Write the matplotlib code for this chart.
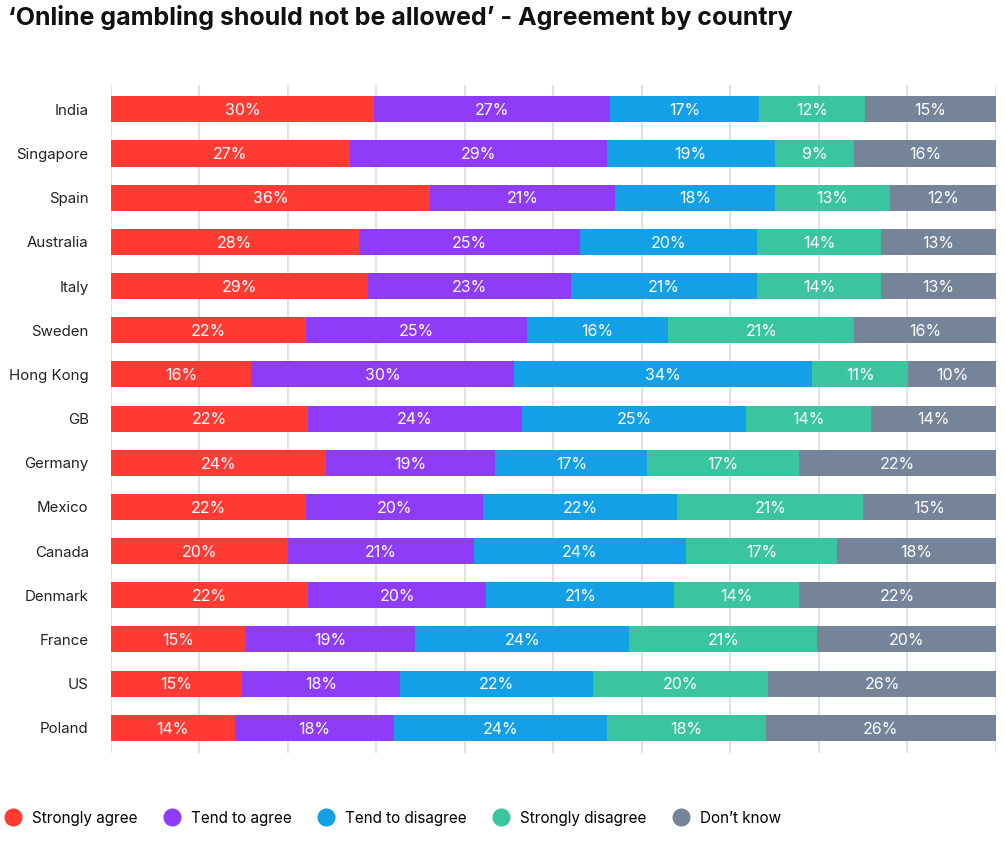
import matplotlib.pyplot as plt
from matplotlib.lines import Line2D
import numpy as np

plt.rcParams['font.family'] = ['Inter', 'DejaVu Sans']

pays = ['India', 'Singapore', 'Spain', 'Australia', 'Italy', 'Sweden', 'Hong Kong', 'GB',
        'Germany', 'Mexico', 'Canada', 'Denmark', 'France', 'US', 'Poland']
categories = ['Strongly agree', 'Tend to agree', 'Tend to disagree', 'Strongly disagree', "Don\u2019t know"]

strongly_agree = [30, 27, 36, 28, 29, 22, 16, 22, 24, 22, 20, 22, 15, 15, 14]
tend_agree = [27, 29, 21, 25, 23, 25, 30, 24, 19, 20, 21, 20, 19, 18, 18]
tend_disagree = [17, 19, 18, 20, 21, 16, 34, 25, 17, 22, 24, 21, 24, 22, 24]
strongly_disagree = [12, 9, 13, 14, 14, 21, 11, 14, 17, 21, 17, 14, 21, 20, 18]
dont_know = [15, 16, 12, 13, 13, 16, 10, 14, 22, 15, 18, 22, 20, 26, 26]

couleurs = ['#FF3B33', '#8E3CF7', '#13A0E6', '#3AC49F', '#76849A']

series = np.array([strongly_agree, tend_agree, tend_disagree, strongly_disagree, dont_know], dtype=float)
# les barres vont toutes jusqu'a 100
parts = series / series.sum(axis=0) * 100

fig = plt.figure(figsize=(10.06, 8.46), dpi=100)
ax = fig.add_axes([0.1103, 0.110, 0.8797, 0.7895])

y = np.arange(len(pays))
gauche = np.zeros(len(pays))
for i in range(len(categories)):
    ax.barh(y, parts[i], left=gauche, height=0.59, color=couleurs[i], zorder=2)
    for j in range(len(pays)):
        ax.text(gauche[j] + parts[i][j] / 2, y[j] + 0.03, '%d%%' % series[i][j], color='white',
                ha='center', va='center', fontsize=11.5, zorder=3)
    gauche += parts[i]

ax.set_xlim(0, 100)
ax.set_ylim(len(pays) - 0.43, -0.55)
ax.set_xticks(np.arange(0, 101, 10))
ax.set_xticklabels([])
ax.tick_params(axis='x', length=0)
ax.tick_params(axis='y', length=0, pad=16, labelsize=10.8, labelcolor='#222222')
ax.set_yticks(y)
ax.set_yticklabels(pays)
ax.grid(axis='x', color='#D9DDE3', linewidth=1.2, zorder=0)
for s in ax.spines.values():
    s.set_visible(False)

fig.text(0.008, 0.979, '\u2018Online gambling should not be allowed\u2019 - Agreement by country',
         fontsize=18, fontweight='bold', ha='left', va='center', color='#111111')

poignees = [Line2D([0], [0], marker='o', linestyle='', markersize=12, color=c) for c in couleurs]
fig.legend(poignees, categories, loc='center left', bbox_to_anchor=(-0.016, 0.033), ncol=5,
           frameon=False, fontsize=11, handletextpad=0.25, columnspacing=1.25)

plt.savefig('out.png', dpi=100)
